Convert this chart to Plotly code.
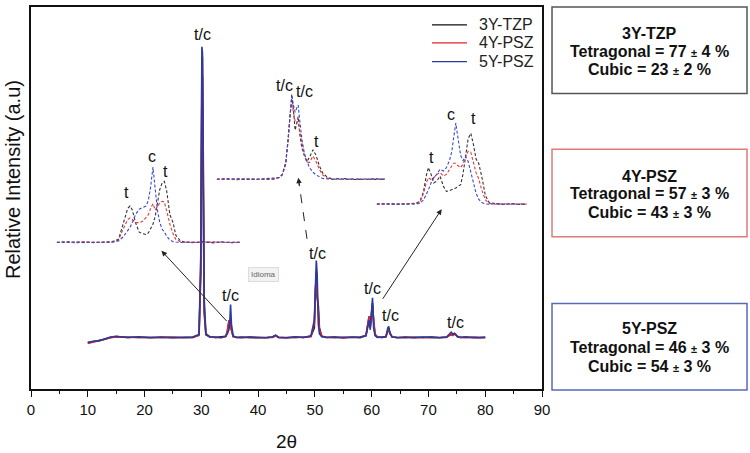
import plotly.graph_objects as go

FONT = "Liberation Sans, Arial, sans-serif"

# ---------------- main XRD pattern ----------------
series_names = ["3Y-TZP", "4Y-PSZ", "5Y-PSZ"]
series_colors = ["#111111", "#e4232b", "#2b3a9e"]
inset_colors = ["#333333", "#e83a3a", "#3a4ac8"]

two_theta = [10, 11, 12, 13, 14, 15, 17, 19, 21, 23, 25, 27, 28.5, 29.6, 29.9, 30.1, 30.2, 30.35, 30.5, 30.8,
             31.5, 32.5, 33.5, 34.3, 34.6, 34.85, 35.0, 35.15, 35.3, 35.6, 36.2, 37, 38.5, 40, 41.5, 42.5, 43.1,
             43.6, 45, 46.5, 48, 49.3, 49.9, 50.1, 50.25, 50.4, 50.6, 50.8, 51.2, 52, 53.5, 55, 56.5, 58, 59.0,
             59.35, 59.55, 59.75, 59.95, 60.15, 60.35, 60.6, 61.0, 61.8, 62.5, 62.85, 63.0, 63.2, 63.6, 64.5, 66,
             67.5, 69, 70.5, 72, 73.2, 73.6, 74.0, 74.3, 74.55, 74.8, 75.1, 75.6, 76.5, 78, 79, 80]

int_3y = [12.1, 12.4, 12.6, 13.0, 13.5, 13.7, 13.5, 13.6, 13.4, 13.6, 13.4, 13.5, 13.6, 14.2, 30, 78, 82, 50, 20, 14.2,
          13.6, 13.5, 13.6, 13.8, 15.0, 17.5, 16.0, 17.0, 15.5, 13.8, 13.5, 13.4, 13.6, 13.5, 13.4, 13.6, 14.0,
          13.5, 13.4, 13.6, 13.5, 13.8, 16, 26, 30, 24, 22, 16, 13.8, 13.5, 13.6, 13.4, 13.5, 13.6, 14.0,
          17.0, 19.0, 16.5, 19.0, 22.5, 17.5, 14.2, 13.6, 13.5, 13.7, 15.5, 16.0, 14.6, 13.6, 13.5, 13.6,
          13.4, 13.5, 13.6, 13.5, 13.6, 14.0, 14.3, 14.2, 14.6, 14.3, 13.7, 13.5, 13.6, 13.5, 13.4, 13.5]
int_4y = [11.9, 12.3, 12.7, 12.9, 13.4, 13.6, 13.6, 13.4, 13.5, 13.5, 13.6, 13.4, 13.5, 14.0, 32, 85, 87, 55, 22, 14.4,
          13.7, 13.5, 13.4, 13.7, 15.5, 18.0, 17.0, 16.5, 15.0, 13.7, 13.6, 13.5, 13.4, 13.5, 13.6, 13.5, 13.9,
          13.6, 13.5, 13.4, 13.6, 13.7, 17, 28, 31, 25, 20, 15.5, 13.9, 13.5, 13.4, 13.6, 13.5, 13.4, 14.1,
          17.5, 19.0, 16.0, 18.0, 21.5, 18.0, 14.4, 13.7, 13.5, 13.6, 15.2, 15.8, 14.5, 13.7, 13.4, 13.5,
          13.6, 13.4, 13.5, 13.6, 13.5, 13.9, 14.2, 14.0, 14.4, 14.2, 13.8, 13.5, 13.4, 13.6, 13.5, 13.4]
int_5y = [12.2, 12.5, 12.6, 13.1, 13.6, 13.8, 13.5, 13.6, 13.5, 13.4, 13.5, 13.6, 13.5, 14.3, 35, 89.6, 88, 60, 24, 14.5,
          13.6, 13.6, 13.5, 13.8, 14.5, 15.5, 17.0, 22.1, 17.0, 13.9, 13.5, 13.6, 13.5, 13.4, 13.5, 13.6, 14.1,
          13.5, 13.4, 13.6, 13.5, 13.9, 18, 30, 33.6, 30, 17, 14.5, 13.7, 13.6, 13.5, 13.4, 13.6, 13.5, 13.9,
          16.0, 18.0, 15.5, 20.0, 23.9, 16.0, 14.0, 13.5, 13.6, 13.7, 16.0, 16.4, 14.8, 13.6, 13.5, 13.4,
          13.5, 13.6, 13.5, 13.4, 13.6, 14.2, 14.9, 14.4, 14.5, 14.2, 13.7, 13.6, 13.5, 13.4, 13.5, 13.6]

# peak labels on the main pattern (2theta, intensity)
peak_lbl_x = [30.2, 35.1, 50.5, 60.1, 63.4, 74.7]
peak_lbl_y = [92.7, 24.5, 35.4, 26.3, 19.3, 17.5]

# ---------------- inset 1 (around 35 deg) ----------------
in1_x = [33.0, 33.2, 33.4, 33.6, 33.8, 34.0, 34.2, 34.35, 34.45, 34.55, 34.6, 34.65, 34.72, 34.8, 34.88,
         34.95, 35.0, 35.05, 35.1, 35.15, 35.2, 35.25, 35.3, 35.35, 35.4, 35.47, 35.54, 35.6, 35.7, 35.8,
         36.0, 36.2, 36.4, 36.6, 36.8, 37.0]
in1_3y = [5, 6, 4.5, 5.5, 4.8, 5.5, 6, 9, 30, 48, 51, 46, 30, 18, 16, 15, 17, 22, 28, 38, 55, 72, 80, 82, 70,
          40, 30, 14, 7, 5.5, 5, 6, 4.5, 5.5, 5, 5.5]
in1_4y = [5, 5.5, 5, 6, 5, 5.5, 5, 8, 22, 34, 36, 34, 30, 30, 32, 36, 40, 48, 54, 46, 50, 55, 57, 56, 45,
          28, 16, 9, 6, 5, 5.5, 5, 6, 5, 5.5, 5]
in1_5y = [5.5, 5, 6, 4.8, 5.5, 5, 5.5, 7, 12, 20, 24, 30, 40, 47, 49, 51, 58, 75, 100, 72, 45, 30, 22, 18, 13,
          8, 6, 5.5, 5, 5.5, 4.8, 5.5, 5, 5.8, 4.8, 5]
in1_lbl = ["t", "c", "t"]
in1_lbl_x = [34.53, 35.07, 35.37]
in1_lbl_y = [67.8, 113.8, 95.0]

# ---------------- inset 2 (around 50 deg) ----------------
in2_x = [48.0, 48.3, 48.6, 48.9, 49.2, 49.5, 49.7, 49.85, 49.95, 50.05, 50.12, 50.18, 50.23, 50.28, 50.33,
         50.38, 50.42, 50.47, 50.53, 50.6, 50.68, 50.76, 50.86, 50.95, 51.05, 51.15, 51.3, 51.45, 51.6, 51.8,
         52.1, 52.4, 52.7, 53.0]
in2_3y = [5, 5.8, 4.6, 5.5, 5, 5.6, 6, 7, 10, 22, 48, 80, 100, 82, 60, 68, 75, 55, 40, 32, 25, 30, 38, 32, 20,
          12, 7, 5.5, 5, 5.8, 4.8, 5.5, 5, 5.4]
in2_4y = [5, 5.5, 5, 6, 4.8, 5.5, 5, 7, 10, 23, 48, 78, 90, 80, 70, 68, 70, 58, 45, 32, 24, 24, 31, 25, 16,
          10, 6, 5.2, 5.8, 5, 5.5, 5, 5.8, 5]
in2_5y = [5.5, 5, 5.8, 4.8, 5.5, 5, 5.8, 7, 11, 24, 50, 82, 98, 88, 80, 85, 88, 70, 50, 35, 25, 18, 13, 10, 8,
          6, 5.5, 5, 5.8, 5, 5.5, 4.8, 5.6, 5]
in2_lbl = ["t/c", "t/c", "t"]
in2_lbl_x = [50.0, 50.6, 50.97]
in2_lbl_y = [110.4, 103.0, 47.5]

# ---------------- inset 3 (around 60 deg) ----------------
in3_x = [58.0, 58.25, 58.5, 58.75, 59.0, 59.15, 59.25, 59.32, 59.38, 59.45, 59.52, 59.6, 59.69, 59.78, 59.86,
         59.94, 60.0, 60.05, 60.11, 60.17, 60.24, 60.3, 60.37, 60.44, 60.51, 60.58, 60.65, 60.72, 60.8, 60.9,
         61.0, 61.2, 61.4, 61.6, 61.8, 62.0]
in3_3y = [5, 5.8, 4.7, 5.5, 6, 8, 20, 38, 48, 40, 30, 32, 38, 26, 20, 21, 22, 23, 24, 26, 28, 40, 62, 82, 88,
          75, 58, 53, 38, 15, 7, 5.5, 5, 5.8, 4.8, 5.3]
in3_4y = [5, 5.5, 5, 5.8, 5.5, 7, 18, 30, 36, 34, 36, 40, 42, 38, 40, 46, 50, 53, 53, 50, 48, 52, 60, 67, 66,
          55, 42, 35, 22, 10, 6, 5, 5.6, 5, 5.5, 5]
in3_5y = [5.5, 5, 5.8, 5, 5.5, 6, 10, 16, 22, 30, 36, 40, 46, 44, 48, 56, 66, 82, 100, 82, 62, 56, 61, 55, 42,
          28, 18, 11, 7, 5.5, 5, 5.8, 4.8, 5.5, 5, 5.5]
in3_lbl = ["t", "c", "t"]
in3_lbl_x = [59.47, 59.98, 60.58]
in3_lbl_y = [59.3, 109.8, 105.8]

# ---------------- phase boxes ----------------
box_titles = ["3Y-TZP", "4Y-PSZ", "5Y-PSZ"]
box_tetragonal = ["77", "57", "46"]
box_tetragonal_err = ["4", "3", "3"]
box_cubic = ["23", "43", "54"]
box_cubic_err = ["2", "3", "3"]
box_border_colors = ["#555555", "#e07a7a", "#5a68b8"]

fig = go.Figure()

main_series = [int_3y, int_4y, int_5y]
for name, ys, col in zip(series_names, main_series, series_colors):
    fig.add_trace(go.Scatter(x=two_theta, y=ys, mode="lines", name=name, showlegend=False,
                             line=dict(color=col, width=1.6), xaxis="x", yaxis="y"))

insets = [
    ("x2", "y2", in1_x, [in1_3y, in1_4y, in1_5y]),
    ("x3", "y3", in2_x, [in2_3y, in2_4y, in2_5y]),
    ("x4", "y4", in3_x, [in3_3y, in3_4y, in3_5y]),
]
for xa, ya, xs, yss in insets:
    for ys, col in zip(yss, inset_colors):
        fig.add_trace(go.Scatter(x=xs, y=ys, mode="lines", showlegend=False,
                                 line=dict(color=col, width=1.1, dash="3px,2px"), xaxis=xa, yaxis=ya))

ann = []
shapes = []

# legend (drawn manually to match spacing)
legend_y = [0.9531, 0.9063, 0.8568]
for name, col, ly in zip(series_names, series_colors, legend_y):
    shapes.append(dict(type="line", xref="paper", yref="paper", x0=0.7847, x1=0.8532, y0=ly, y1=ly,
                       line=dict(color=col, width=1.3)))
    ann.append(dict(x=0.8728, y=ly, xref="paper", yref="paper", text=name, showarrow=False,
                    font=dict(size=16, color="#222"), xanchor="left", yanchor="middle"))

for x, y in zip(peak_lbl_x, peak_lbl_y):
    ann.append(dict(x=x, y=y, xref="x", yref="y", text="t/c", showarrow=False,
                    font=dict(size=16, color="#111"), xanchor="center", yanchor="middle"))
for xr, yr, lbls, lx, ly in [("x2", "y2", in1_lbl, in1_lbl_x, in1_lbl_y),
                             ("x3", "y3", in2_lbl, in2_lbl_x, in2_lbl_y),
                             ("x4", "y4", in3_lbl, in3_lbl_x, in3_lbl_y)]:
    for t, x, y in zip(lbls, lx, ly):
        ann.append(dict(x=x, y=y, xref=xr, yref=yr, text=t, showarrow=False,
                        font=dict(size=16, color="#111"), xanchor="center", yanchor="middle"))

# arrows (inset pointers)
ann.append(dict(x=22.98, y=36.2, ax=34.7, ay=17.4, xref="x", yref="y", axref="x", ayref="y",
                text="", showarrow=True, arrowhead=2, arrowsize=1.1, arrowwidth=1, arrowcolor="#222"))
ann.append(dict(x=72.33, y=47.06, ax=61.77, ay=23.2, xref="x", yref="y", axref="x", ayref="y",
                text="", showarrow=True, arrowhead=2, arrowsize=1.1, arrowwidth=1, arrowcolor="#222"))
ann.append(dict(x=47.08, y=55.3, ax=47.32, ay=52.7, xref="x", yref="y", axref="x", ayref="y",
                text="", showarrow=True, arrowhead=2, arrowsize=1.1, arrowwidth=1, arrowcolor="#222"))

# tooltip artefact
ann.append(dict(x=41.0, y=29.9, xref="x", yref="y", text="Idioma", showarrow=False,
                font=dict(size=8, color="#666"), bgcolor="#f2f2f2", bordercolor="#dcdcdc",
                borderwidth=1, borderpad=2))

# axis titles
ann.append(dict(x=-0.0352, y=0.547, xref="paper", yref="paper", text="Relative Intensity (a.u)",
                textangle=-90, showarrow=False, font=dict(size=20, color="#111"),
                xanchor="center", yanchor="middle"))
ann.append(dict(x=0.5, y=-0.137, xref="paper", yref="paper", text="2θ", showarrow=False,
                font=dict(size=19, color="#111"), xanchor="center", yanchor="middle"))

# boxes
box_y = [(1.0, 0.7734), (0.6276, 0.3984), (0.224, -0.0026)]
line_y = [(0.9305, 0.8828, 0.8352), (0.5573, 0.5112, 0.4617), (0.1581, 0.1086, 0.0599)]
pm = "<span style='font-size:11px'>±</span>"
for i in range(3):
    y0, y1 = box_y[i]
    shapes.append(dict(type="rect", xref="paper", yref="paper", x0=1.0196, x1=1.4012, y0=y1, y1=y0,
                       line=dict(color=box_border_colors[i], width=1.5), fillcolor="rgba(0,0,0,0)"))
    texts = [f"<b>{box_titles[i]}</b>",
             f"<b>Tetragonal = {box_tetragonal[i]} {pm} {box_tetragonal_err[i]} %</b>",
             f"<b>Cubic = {box_cubic[i]} {pm} {box_cubic_err[i]} %</b>"]
    for t, ly in zip(texts, line_y[i]):
        ann.append(dict(x=1.2104, y=ly, xref="paper", yref="paper", text=t, showarrow=False,
                        font=dict(size=16, color="#111"), xanchor="center", yanchor="middle"))

# dashed arrow shaft
shapes.append(dict(type="line", xref="x", yref="y", x0=48.61, y0=39.3, x1=47.2, y1=54.0,
                   line=dict(color="#222", width=1, dash="dash")))

axis_hidden = dict(visible=False, showgrid=False, zeroline=False)
fig.update_layout(
    width=750, height=453,
    margin=dict(l=31, r=208, t=5, b=64),
    paper_bgcolor="white", plot_bgcolor="rgba(0,0,0,0)",
    font=dict(family=FONT, color="#111"),
    showlegend=False,
    xaxis=dict(range=[0, 90], dtick=10, ticks="outside", ticklen=6, tickwidth=1.2, tickcolor="#111",
               minor=dict(dtick=5, ticks="outside", ticklen=3, tickcolor="#111", tickwidth=1.2),
               showline=True, linewidth=1.5, linecolor="#111", mirror=True, showgrid=False,
               zeroline=False, tickfont=dict(size=15, color="#111"), domain=[0, 1]),
    yaxis=dict(range=[0, 100], showticklabels=False, ticks="", showline=True, linewidth=1.5,
               linecolor="#111", mirror=True, showgrid=False, zeroline=False, domain=[0, 1]),
    xaxis2=dict(axis_hidden, range=[33, 37], domain=[0.0503, 0.409], anchor="y2"),
    yaxis2=dict(axis_hidden, range=[0, 125], domain=[0.3732, 0.6326], anchor="x2"),
    xaxis3=dict(axis_hidden, range=[48, 53], domain=[0.3634, 0.6928], anchor="y3"),
    yaxis3=dict(axis_hidden, range=[0, 125], domain=[0.537, 0.830], anchor="x3"),
    xaxis4=dict(axis_hidden, range=[58, 62], domain=[0.6765, 0.970], anchor="y4"),
    yaxis4=dict(axis_hidden, range=[0, 125], domain=[0.4724, 0.752], anchor="x4"),
    annotations=ann,
    shapes=shapes,
)

fig.write_html("out.html", config={"displayModeBar": False},
               post_script="document.body.style.margin='0';document.body.style.padding='0';")
